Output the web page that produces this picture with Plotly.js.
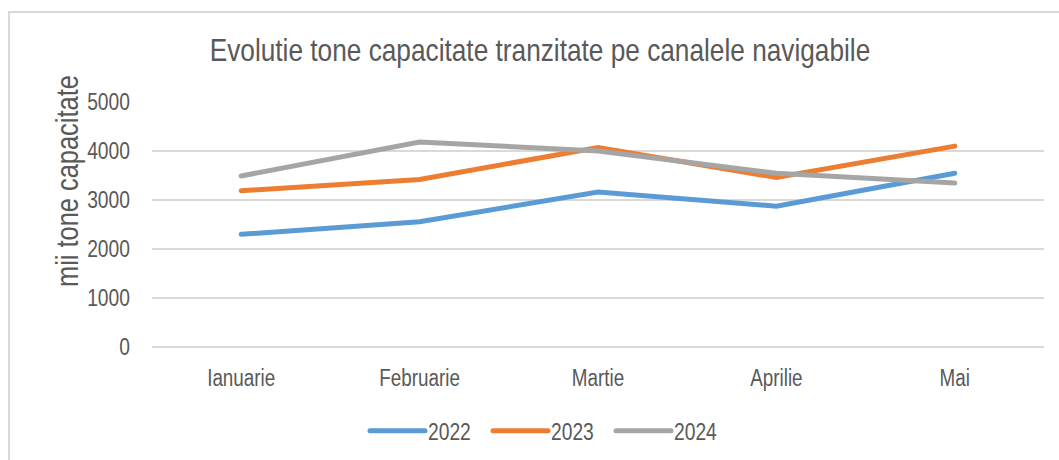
<!DOCTYPE html>
<html>
<head>
<meta charset="utf-8">
<script src="https://cdn.plot.ly/plotly-3.0.1.min.js"></script>
<style>
  html, body { margin: 0; padding: 0; background: #fff; }
  #wrap { position: relative; width: 1059px; height: 460px; overflow: hidden; }
  #chart { position: absolute; left: 0; top: 0; width: 1059px; height: 460px; }
  #frame { position: absolute; left: 8px; top: 11px; width: 1100px; height: 500px;
           border-top: 2px solid #d9d9d9; border-left: 2px solid #d9d9d9; pointer-events: none; }
  #chart .scatterlayer .js-line, #chart .legendlines path { stroke-linecap: round; }
</style>
</head>
<body>
<div id="wrap">
  <div id="chart"></div>
  <div id="frame"></div>
</div>
<script>
const months = ["Ianuarie", "Februarie", "Martie", "Aprilie", "Mai"];
const v2022 = [2300, 2555, 3165, 2875, 3545];
const v2023 = [3190, 3420, 4070, 3460, 4100];
const v2024 = [3490, 4185, 4000, 3545, 3345];
const seriesNames = ["2022", "2023", "2024"];

const FONT = '"Liberation Sans", Arial, sans-serif';
const TXT = '#595959';
const NARROW = 0.82;

function tr(name, y, color) {
  return {
    type: 'scatter', mode: 'lines', name: name, x: months, y: y,
    line: { color: color, width: 5, shape: 'linear' },
    hoverinfo: 'x+y+name'
  };
}

const data = [
  tr(seriesNames[0], v2022, '#5b9bd5'),
  tr(seriesNames[1], v2023, '#ed7d31'),
  tr(seriesNames[2], v2024, '#a5a5a5')
];

const layout = {
  width: 1059, height: 460,
  paper_bgcolor: '#ffffff', plot_bgcolor: '#ffffff',
  margin: { l: 152, r: 15, t: 102, b: 113, pad: 0 },
  font: { family: FONT, color: TXT, size: 23 },
  title: {
    text: 'Evolutie tone capacitate tranzitate pe canalele navigabile',
    font: { family: FONT, size: 32, color: TXT },
    x: 540 / 1059, xref: 'container', xanchor: 'center',
    y: 1 - 50 / 460, yref: 'container', yanchor: 'middle'
  },
  xaxis: {
    type: 'category',
    range: [-0.5, 4.5],
    showgrid: false, zeroline: false, showline: false,
    ticks: '', ticklabelstandoff: 15,
    tickfont: { family: FONT, size: 23, color: TXT },
    fixedrange: true
  },
  yaxis: {
    range: [0, 5000],
    tickvals: [0, 1000, 2000, 3000, 4000, 5000],
    ticktext: ['0', '1000', '2000', '3000', '4000', '5000'],
    showgrid: true, gridcolor: '#d9d9d9', gridwidth: 1.5,
    zeroline: true, zerolinecolor: '#d9d9d9', zerolinewidth: 1.5,
    showline: false, ticks: '', ticklabelstandoff: 21,
    tickfont: { family: FONT, size: 23.5, color: TXT },
    fixedrange: true
  },
  annotations: [{
    text: 'mii tone capacitate',
    xref: 'paper', yref: 'paper',
    x: (67 - 152) / 892, y: (346.7 - 181) / 245,
    xanchor: 'center', yanchor: 'middle',
    textangle: -90, showarrow: false,
    font: { family: FONT, size: 31, color: TXT }
  }],
  showlegend: true,
  legend: {
    orientation: 'h',
    x: 388 / 1059, xref: 'container', xanchor: 'left',
    y: 1 - 431 / 460, yref: 'container', yanchor: 'middle',
    font: { family: FONT, size: 23.5, color: TXT },
    bgcolor: 'rgba(0,0,0,0)',
    itemwidth: 30,
    entrywidth: 78,
    tracegroupgap: 0
  },
  hovermode: 'closest'
};

function narrowText(gd) {
  gd.querySelectorAll('svg text').forEach(function (el) {
    if (el.getAttribute('data-narrow')) return;
    const x = parseFloat(el.getAttribute('x') || '0');
    const t = el.getAttribute('transform') || '';
    el.setAttribute('transform', (t + ' translate(' + x + ',0) scale(' + NARROW + ',1) translate(' + (-x) + ',0)').trim());
    el.setAttribute('data-narrow', '1');
  });
  gd.querySelectorAll('.legendlines path').forEach(function (p) {
    p.setAttribute('d', 'M-18,0h55');
  });
  gd.querySelectorAll('.legend [clip-path], .legend[clip-path]').forEach(function (e) {
    e.removeAttribute('clip-path');
  });
}

Plotly.newPlot('chart', data, layout, { displayModeBar: false }).then(function (gd) {
  narrowText(gd);
});
</script>
</body>
</html>
